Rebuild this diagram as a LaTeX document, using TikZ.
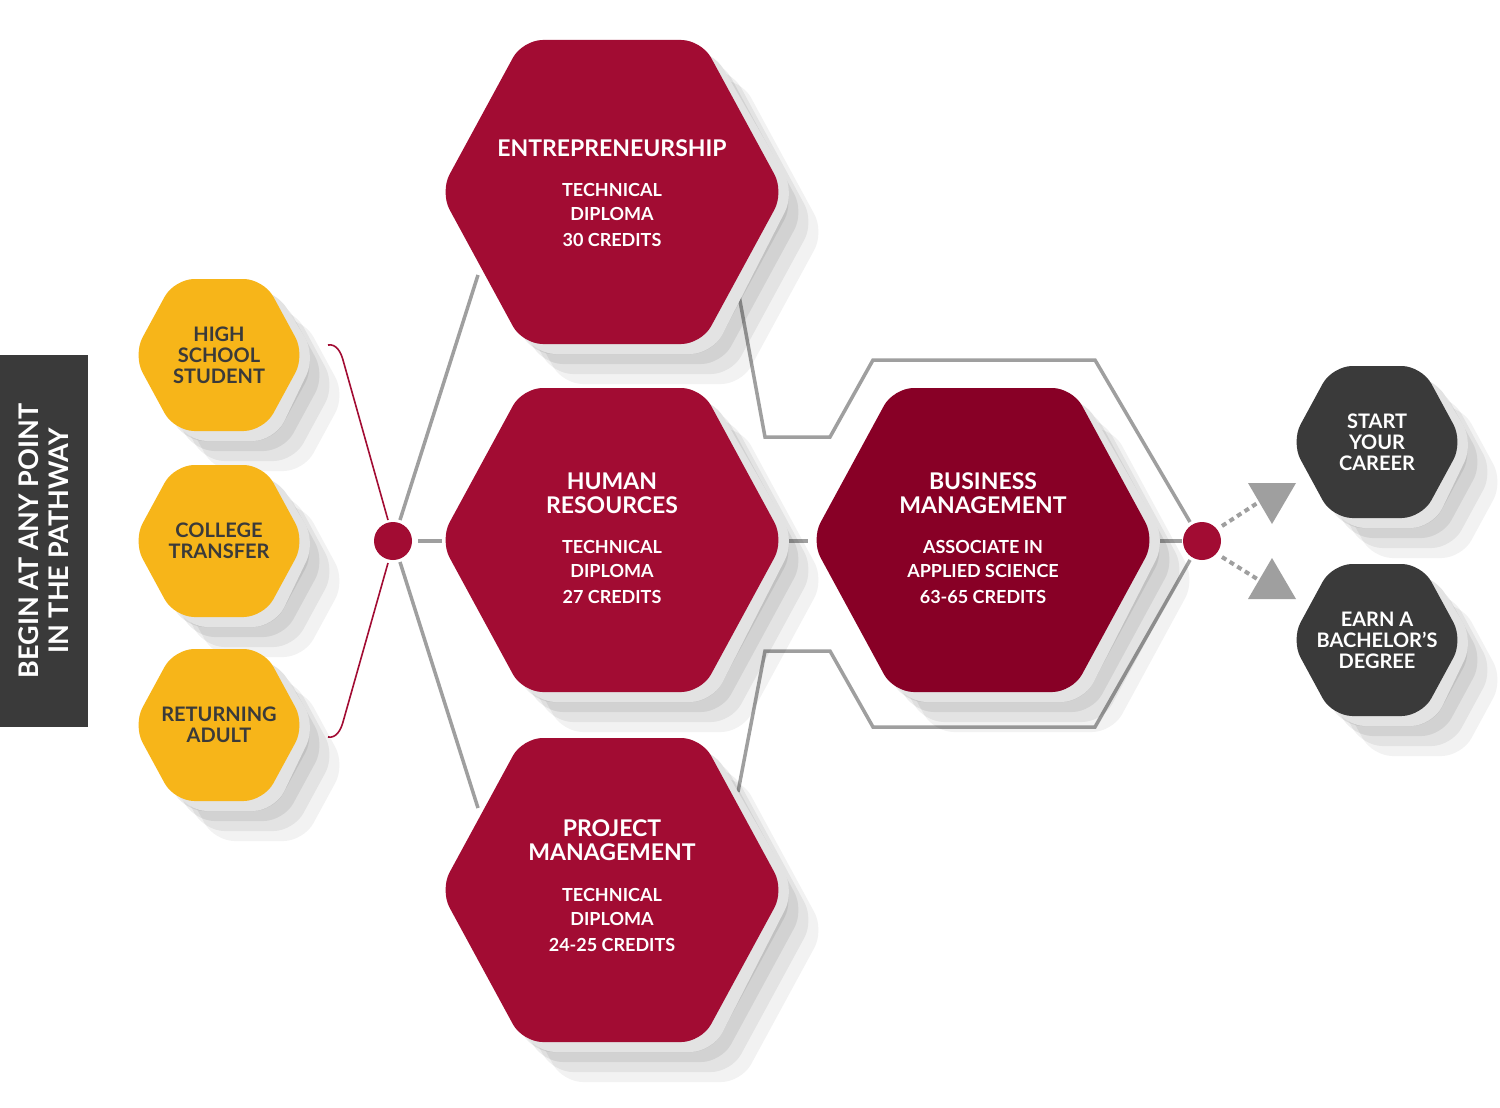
\documentclass[tikz,border=0pt]{standalone}
\usepackage{fontspec}
\setmainfont{Lato}
\begin{document}
\begin{tikzpicture}[x=1pt,y=-1pt,
  lbl/.style={text=white,font=\bfseries,align=center},
  conn/.style={draw=gray!75,line width=3.5pt},
  redline/.style={draw=redA,line width=1.6pt}]
\definecolor{redA}{HTML}{A20C33}
\definecolor{redB}{HTML}{880026}
\definecolor{yel}{HTML}{F7B519}
\definecolor{dark}{HTML}{3A3A3A}
\definecolor{rim}{HTML}{E3E3E3}
\useasboundingbox (0,0) rectangle (1500,1108);
\fill[white] (0,0) rectangle (1500,1108);
\newcommand\hexpath[4]{({#1-#3},{#2}) -- ({#1-0.52*#3},{#2-#4}) -- ({#1+0.52*#3},{#2-#4}) -- ({#1+#3},{#2}) -- ({#1+0.52*#3},{#2+#4}) -- ({#1-0.52*#3},{#2+#4}) -- cycle}
\newcommand\hexa[5]{%
  \foreach \o/\op in {40/0.05,30/0.06,20/0.07,10/0.08}{
    \fill[black,opacity=\op,rounded corners=20] \hexpath{#1+\o}{#2+\o}{#3}{#4};}
  \fill[rim,rounded corners=22] \hexpath{#1}{#2}{#3+11}{#4+10};
  \fill[#5,rounded corners=20] \hexpath{#1}{#2}{#3}{#4};
}
% left label
\fill[dark] (0,355) rectangle (88,727);
\node[lbl,rotate=90,font=\bfseries\fontsize{27}{30}\selectfont] (lab) at (44,541) {BEGIN AT ANY POINT\\IN THE PATHWAY};
% connectors
\coordinate (d1) at (393,541);
\coordinate (d2) at (1202,541);
\draw[conn] (400,520) -- (478,275);
\draw[conn] (400,562) -- (478,808);
\draw[conn] (418,541) -- (442,541);
\draw[conn] (738,290) -- (765,437) -- (830,437) -- (873,360) -- (1095,360) -- (1190,522);
\draw[conn] (738,792) -- (765,651) -- (830,651) -- (873,727) -- (1095,727) -- (1190,560);
\draw[conn] (785,541) -- (808,541);
\draw[conn] (1155,541) -- (1182,541);
\draw[redline] (328,345) to[out=10,in=105] (343,360) -- (388,520);
\draw[redline] (328,737) to[out=-10,in=-105] (343,722) -- (388,563);
% hexagons
\hexa{612}{192}{172}{152}{redA}
\hexa{612}{540}{172}{152}{redA}
\hexa{612}{890}{172}{152}{redA}
\hexa{983}{540}{172}{152}{redB}
\hexa{219}{355}{86}{76}{yel}
\hexa{219}{541}{86}{76}{yel}
\hexa{219}{725}{86}{76}{yel}
\hexa{1377}{442}{86}{76}{dark}
\hexa{1377}{640}{86}{76}{dark}
% dots
\fill[redA] (d1) circle (19);
\fill[redA] (d2) circle (19);
\coordinate (t1) at (1262,500);
\coordinate (t2) at (1262,582);
\draw[gray!75,line width=4pt,dash pattern=on 5pt off 4pt] (1222,526) -- (t1);
\draw[gray!75,line width=4pt,dash pattern=on 5pt off 4pt] (1222,557) -- (t2);
\fill[gray!75] (1248,483) -- (1296,483) -- (1272,524) -- cycle;
\fill[gray!75] (1248,599) -- (1296,599) -- (1272,558) -- cycle;
% texts
\tikzset{big/.style={lbl,font=\bfseries\fontsize{23}{24}\selectfont},
         small/.style={lbl,font=\bfseries\fontsize{18}{24}\selectfont},
         yl/.style={lbl,text=dark,font=\bfseries\fontsize{20}{21}\selectfont},
         dl/.style={lbl,font=\bfseries\fontsize{20}{21}\selectfont}}
\node[big] (e) at (612,148) {ENTREPRENEURSHIP};
\node[small] (e2) at (612,215) {TECHNICAL\\DIPLOMA\\[2pt]30 CREDITS};
\node[big] (h) at (612,493) {HUMAN\\RESOURCES};
\node[small] (h2) at (612,572) {TECHNICAL\\DIPLOMA\\[2pt]27 CREDITS};
\node[big] (p) at (612,840) {PROJECT\\MANAGEMENT};
\node[small] (p2) at (612,920) {TECHNICAL\\DIPLOMA\\[2pt]24-25 CREDITS};
\node[big] (b) at (983,493) {BUSINESS\\MANAGEMENT};
\node[small] (b2) at (983,572) {ASSOCIATE IN\\APPLIED SCIENCE\\[2pt]63-65 CREDITS};
\node[yl] (y1) at (219,355) {HIGH\\SCHOOL\\STUDENT};
\node[yl] (y2) at (219,541) {COLLEGE\\TRANSFER};
\node[yl] (y3) at (219,725) {RETURNING\\ADULT};
\node[dl] (k1) at (1377,442) {START\\YOUR\\CAREER};
\node[dl] (k2) at (1377,640) {EARN A\\BACHELOR’S\\DEGREE};
\end{tikzpicture}
\end{document}
